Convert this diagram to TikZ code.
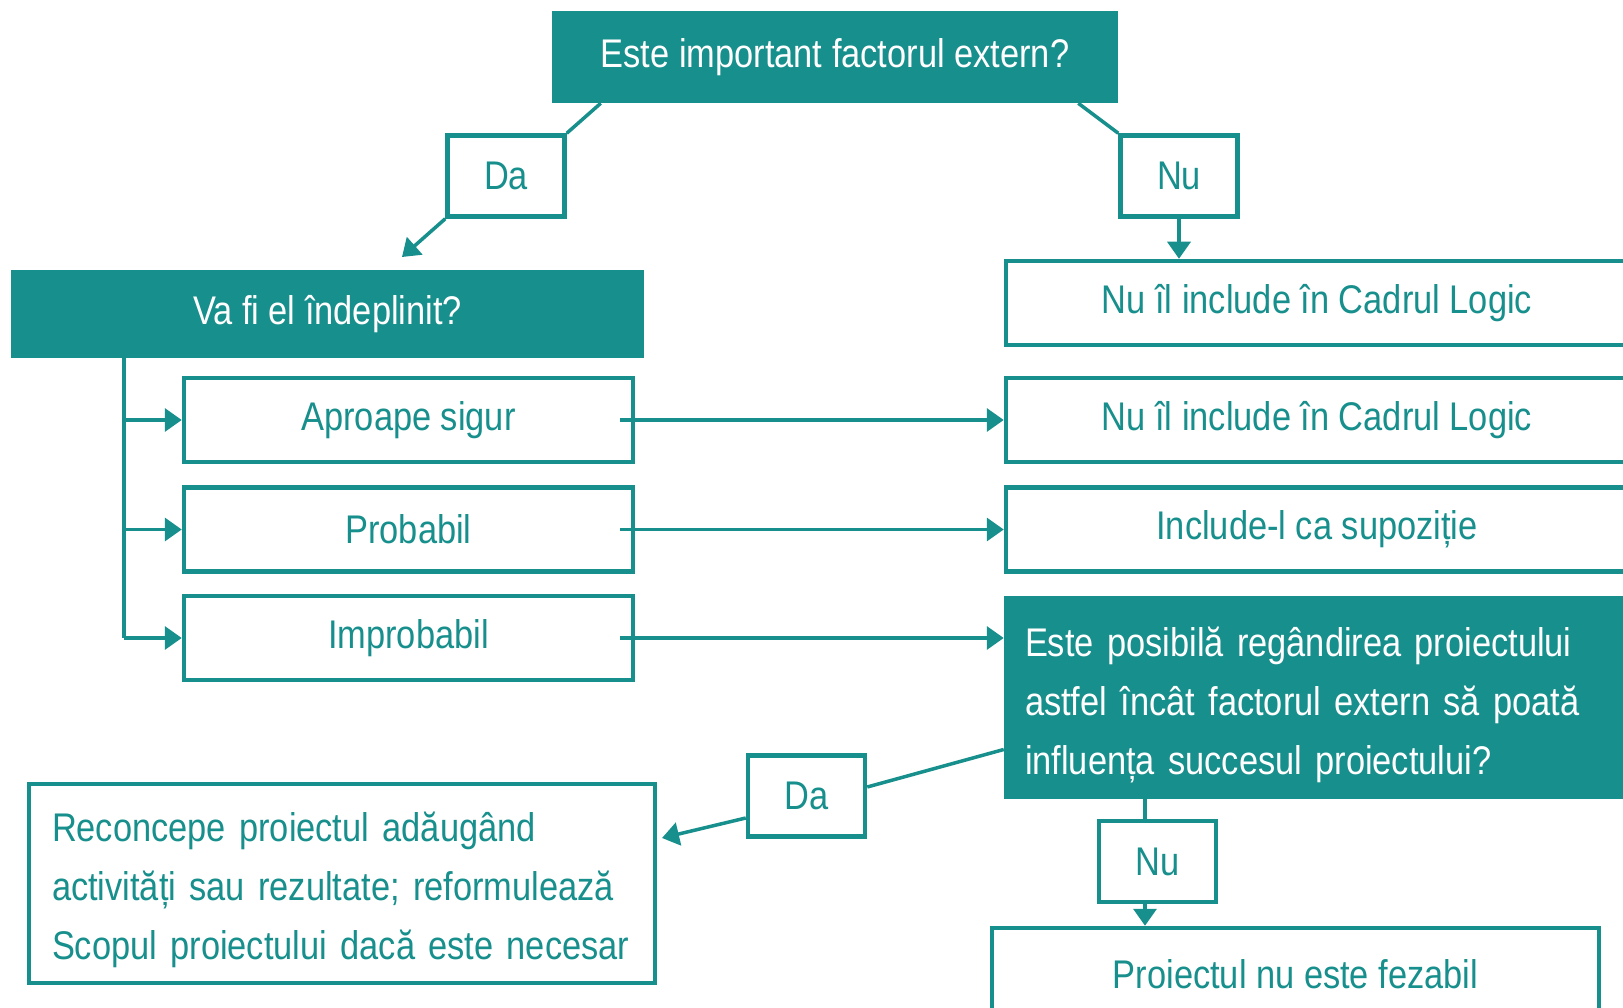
\documentclass[tikz,border=0pt]{standalone}
\usepackage{fontspec}
\setmainfont[FakeStretch=0.86]{Liberation Sans}
\usepackage{xcolor}
\usetikzlibrary{arrows.meta}

\definecolor{tealbox}{RGB}{23,143,140}

\tikzset{
    box/.style={shape=rectangle, draw=tealbox, line width=4.5pt, fill=white, text=tealbox,
        inner sep=0pt, font=\fontsize{40}{59}\selectfont},
    fullbox/.style={box, fill=tealbox, text=white},
    answer/.style={box, minimum width=117pt, minimum height=81pt},
    wide/.style={minimum width=634pt, minimum height=84pt},
    choice/.style={minimum width=449pt, minimum height=84pt},
    link/.style={color=tealbox, line width=3.5pt},
    arrow/.style={link, -{Triangle[length=17pt,width=23pt]}},
}

\begin{document}
\begin{tikzpicture}[x=1pt, y=-1pt]
    \clip (0,0) rectangle (1623,1008);
    \fill[white] (0,0) rectangle (1623,1008);

    \node[fullbox, minimum width=562pt, minimum height=88pt] (quest) at (835, 57) {Este important factorul extern?};
    \node[answer] (da1) at (506, 176) {Da};
    \node[answer] (nu1) at (1179, 176) {Nu};

    \node[fullbox, minimum width=629pt, minimum height=84pt] (fulfil) at (327.5, 314) {Va fi el îndeplinit?};
    \node[box, choice] (sure) at (408.5, 420) {Aproape sigur};
    \node[box, choice] (likely) at (408.5, 529.5) {Probabil};
    \node[box, choice] (unlikely) at (408.5, 638) {Improbabil};

    \node[box, wide] (skip1) at (1323, 303) {\hspace*{-12pt}Nu îl include în Cadrul Logic};
    \node[box, wide] (skip2) at (1323, 420) {\hspace*{-12pt}Nu îl include în Cadrul Logic};
    \node[box, wide] (assume) at (1323, 529.5) {\hspace*{-12pt}Include-l ca supoziție};
    \node[fullbox, minimum width=634pt, minimum height=199pt, inner xsep=19pt,
        text width=596pt, align=left] (rethink) at (1323, 697.5)
        {\rule{0pt}{44pt}Este posibilă regândirea proiectului\\ astfel încât factorul extern să poată\\ influența succesul proiectului?};

    \node[answer] (da2) at (806.5, 796) {Da};
    \node[box, minimum width=626pt, minimum height=199pt, inner xsep=23pt,
        text width=580pt, align=left] (redesign) at (342, 883.5)
        {\rule{0pt}{42pt}Reconcepe proiectul adăugând\\ activități sau rezultate; reformulează\\ Scopul proiectului dacă este necesar};
    \node[answer] (nu2) at (1157.5, 861.5) {Nu};
    \node[box, minimum width=607pt, minimum height=92pt] (infeasible) at (1295.5, 974) {Proiectul nu este fezabil};

    \coordinate (trunk) at (124, 638);
    \coordinate (datip) at (402, 257);
    \coordinate (redtip) at (662, 838);
    \coordinate (nucol) at (1145, 0);

    % top branches
    \path (quest.south west) ++(49,0) edge [link] (da1.north east);
    \path (da1.south west) edge [arrow] (datip);
    \path (quest.south east) ++(-40,0) edge [link] (nu1.north west);
    \path (nu1.south) edge [arrow] (nu1.south |- skip1.north);

    % left column
    \path (trunk |- fulfil.south) edge [link] (trunk);
    \path (trunk |- sure.west) edge [arrow] (sure.west);
    \path (trunk |- likely.west) edge [arrow] (likely.west);
    \path (trunk) edge [arrow] (unlikely.west);

    % across
    \path (sure.east) ++(-15,0) edge [arrow] (skip2.west);
    \path (likely.east) ++(-15,0) edge [arrow] (assume.west);
    \path (unlikely.east) ++(-15,0) edge [arrow] (unlikely.east -| rethink.west);

    % bottom branches
    \path (rethink.west) ++(0,52) edge [link] ([yshift=9pt]da2.east);
    \path (da2.west) ++(0,22) edge [arrow] (redtip);
    \path (nucol |- rethink.south) edge [link] (nucol |- nu2.north);
    \path (nucol |- nu2.south) edge [arrow] (nucol |- infeasible.north);
\end{tikzpicture}
\end{document}
